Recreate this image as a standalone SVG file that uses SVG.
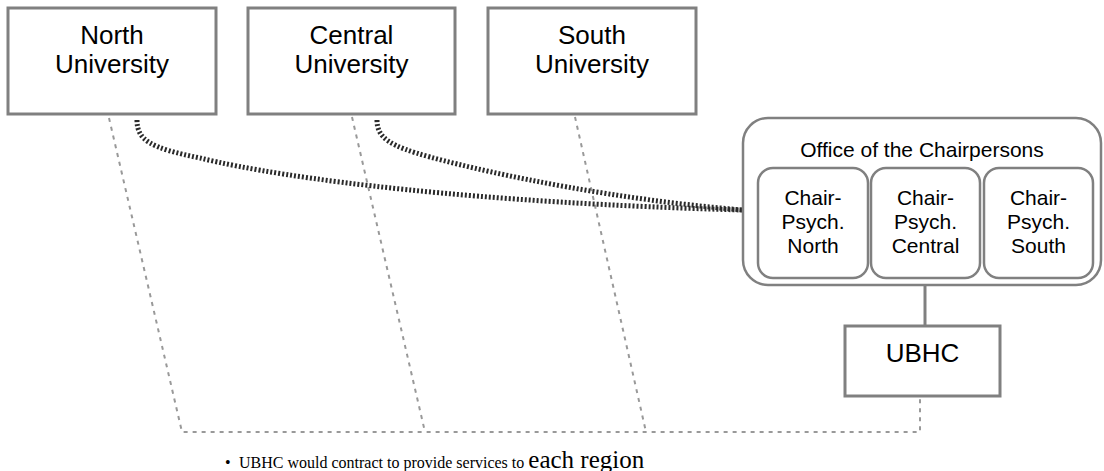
<svg xmlns="http://www.w3.org/2000/svg" width="1104" height="471" viewBox="0 0 1104 471">
<style>
.box{fill:#fff;stroke:#808080;stroke-width:3}
.rbox{fill:#fff;stroke:#808080;stroke-width:2.5}
.t{font-family:"Liberation Sans",Arial,sans-serif;fill:#000;text-anchor:middle}
.big{font-size:26px}
.mid{font-size:21px}
.dash{fill:none;stroke:#999;stroke-width:2;stroke-dasharray:4 5}
.hatch{fill:none;stroke:#2a2a2a;stroke-width:5;stroke-dasharray:2 2}
.solid{fill:none;stroke:#808080;stroke-width:3}
.note{font-family:"Liberation Serif","Times New Roman",serif;fill:#000}
</style>
<rect width="1104" height="471" fill="#fff"/>
<g id="connectors">
<path class="dash" d="M109,118 L182,432 L920,432 L920,398"/>
<path class="dash" d="M352,117 L425,432"/>
<path class="dash" d="M575,117 L646,432"/>
<path class="hatch" d="M137,120 C137,140 150,148 200,158 C290,180 480,203 743,210"/>
<path class="hatch" d="M377,120 C377,138 390,146 430,157 C500,176 620,200 743,210"/>
<path class="solid" d="M925,286 L925,326"/>
</g>
<g id="north-university">
<rect class="box" x="8" y="8" width="208" height="106"/>
<text class="t big" x="112" y="44">North</text>
<text class="t big" x="112" y="73">University</text>
</g>
<g id="central-university">
<rect class="box" x="248" y="8" width="207" height="106"/>
<text class="t big" x="351.5" y="44">Central</text>
<text class="t big" x="351.5" y="73">University</text>
</g>
<g id="south-university">
<rect class="box" x="488" y="8" width="208" height="106"/>
<text class="t big" x="592" y="44">South</text>
<text class="t big" x="592" y="73">University</text>
</g>
<g id="office-of-the-chairpersons">
<rect class="rbox" x="743" y="118" width="358" height="167" rx="25" ry="25"/>
<text class="t mid" x="922" y="157">Office of the Chairpersons</text>
</g>
<g id="chair-psych-north">
<rect class="rbox" x="758" y="168" width="110" height="110" rx="15" ry="15"/>
<text class="t mid" x="813" y="205">Chair-</text>
<text class="t mid" x="813" y="229">Psych.</text>
<text class="t mid" x="813" y="253">North</text>
</g>
<g id="chair-psych-central">
<rect class="rbox" x="871" y="168" width="109" height="110" rx="15" ry="15"/>
<text class="t mid" x="925.5" y="205">Chair-</text>
<text class="t mid" x="925.5" y="229">Psych.</text>
<text class="t mid" x="925.5" y="253">Central</text>
</g>
<g id="chair-psych-south">
<rect class="rbox" x="984" y="168" width="109" height="110" rx="15" ry="15"/>
<text class="t mid" x="1038.5" y="205">Chair-</text>
<text class="t mid" x="1038.5" y="229">Psych.</text>
<text class="t mid" x="1038.5" y="253">South</text>
</g>
<g id="ubhc">
<rect class="box" x="845" y="326" width="155" height="70"/>
<text class="t big" x="922.5" y="362">UBHC</text>
</g>
<g id="note">
<text class="note" x="225" y="468" font-size="16">•</text>
<text class="note" x="239" y="468" font-size="16">UBHC would contract to provide services to <tspan font-size="25">each region</tspan></text>
</g>
</svg>
